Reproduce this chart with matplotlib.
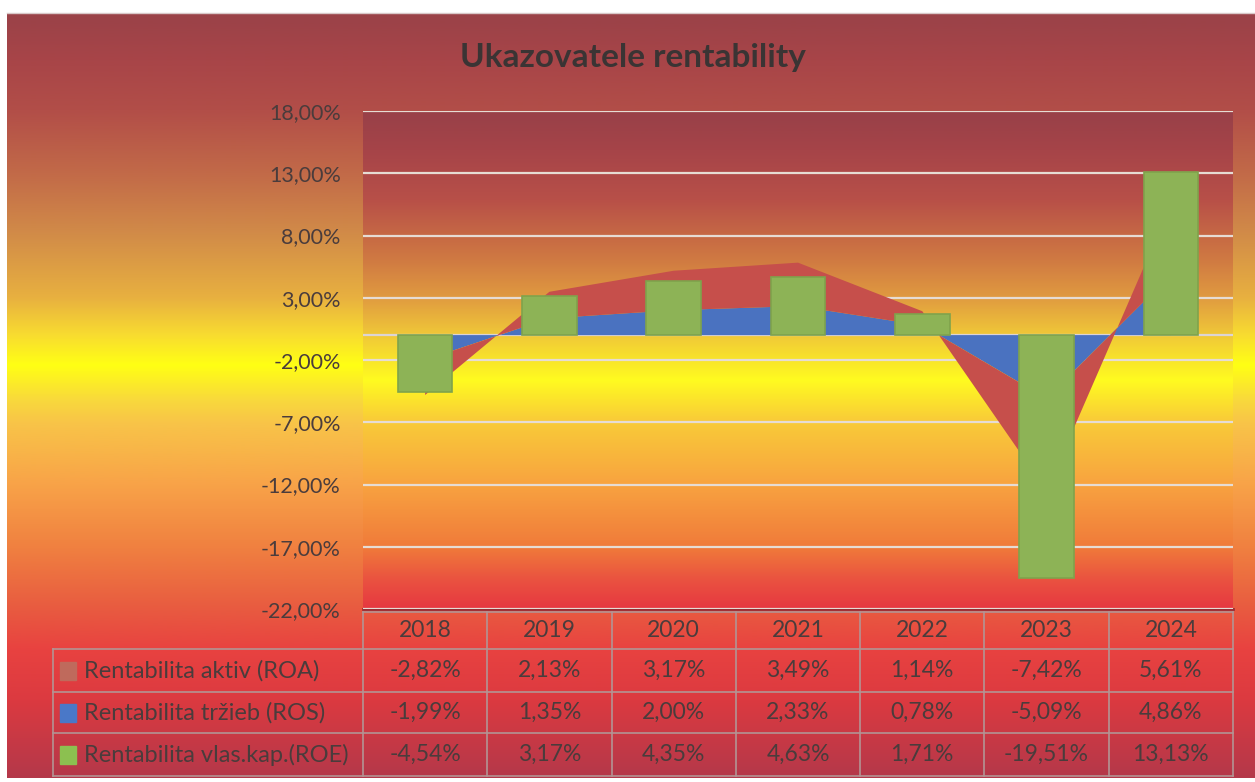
import numpy as np
import matplotlib
matplotlib.use("Agg")
import matplotlib.pyplot as plt
import matplotlib.transforms as mtransforms
from matplotlib.colors import to_rgb
from matplotlib.patches import Rectangle

plt.rcParams['font.family'] = ['Lato', 'DejaVu Sans']

# data
years = ['2018', '2019', '2020', '2021', '2022', '2023', '2024']
roa = [-2.82, 2.13, 3.17, 3.49, 1.14, -7.42, 5.61]
ros = [-1.99, 1.35, 2.00, 2.33, 0.78, -5.09, 4.86]
roe = [-4.54, 3.17, 4.35, 4.63, 1.71, -19.51, 13.13]
series_names = ['Rentabilita aktiv (ROA)', 'Rentabilita tržieb (ROS)',
                'Rentabilita vlas.kap.(ROE)']
y_ticks = [-22, -17, -12, -7, -2, 3, 8, 13, 18]

W, H = 1255, 782
C_ROA = '#c64f4b'
C_ROS = '#4a72c0'
C_ROE = '#8db356'
TXT = '#4a3c3c'
GRID = '#e6dcd4'
BORDER = '#b39494'


def vgrad(stops, y0, y1, n=500):
    """vertical gradient image from (y_pixel, colour) stops"""
    ys = np.linspace(y0, y1, n)
    sy = [s[0] for s in stops]
    cols = np.array([to_rgb(s[1]) for s in stops])
    img = np.stack([np.interp(ys, sy, cols[:, k]) for k in range(3)], axis=-1)
    return img[:, None, :]


bg_stops = [(13, '#9a4248'), (60, '#a84548'), (110, '#b24e48'), (173, '#c26a48'),
            (235, '#d28c48'), (297, '#e8b040'), (335, '#f8dc30'), (365, '#ffff14'),
            (400, '#f9d93c'), (423, '#f8c448'), (486, '#f8a248'), (548, '#f08040'),
            (610, '#e85a40'), (650, '#e84240'), (700, '#dc3a40'), (778, '#b4384a')]
plot_stops = [(111, '#984048'), (150, '#a64448'), (200, '#b85048'), (260, '#d07a42'),
              (297, '#e09a40'), (335, '#f0c838'), (380, '#fffb20'), (420, '#f9cc38'),
              (486, '#f8a240'), (548, '#f07a3a'), (580, '#ea5240'), (609, '#e63840')]

fig = plt.figure(figsize=(W / 100, H / 100), dpi=100)
fig.patch.set_facecolor('white')

# overlay in pixel coordinates for background and table grid
ov = fig.add_axes([0, 0, 1, 1], zorder=0)
ov.set_xlim(0, W)
ov.set_ylim(H, 0)
ov.axis('off')
ov.imshow(vgrad(bg_stops, 13, 778), extent=(7, W, 778, 13), aspect='auto',
          interpolation='bilinear', zorder=0)
ov.plot([7, W], [13, 13], color='#d8c8c8', lw=1, zorder=1)

# plot area
px_l, px_r, px_t, px_b = 363, 1233, 111, 609
ax = fig.add_axes([px_l / W, 1 - px_b / H, (px_r - px_l) / W, (px_b - px_t) / H], zorder=1)
ax.patch.set_visible(False)
x = np.arange(len(years))
ax.set_xlim(-0.5, len(years) - 0.5)
ax.set_ylim(-22, 18)
ax.imshow(vgrad(plot_stops, px_t, px_b), extent=(-0.5, len(years) - 0.5, -22, 18),
          aspect='auto', interpolation='bilinear', zorder=0)

ax.set_axisbelow(True)
ax.set_yticks(y_ticks)
ax.set_yticklabels([f"{v:.2f}".replace('.', ',') + '%' for v in y_ticks],
                   fontsize=15.5, color=TXT)
ax.yaxis.grid(True, color=GRID, lw=1.6)
ax.tick_params(axis='y', length=0, pad=16)
ax.set_xticks([])
for s in ax.spines.values():
    s.set_visible(False)
ax.axhline(0, color='#dcd4d4', lw=1.6, zorder=0.6)

# stacked area (ROS at base, ROA on top) and ROE columns
ax.stackplot(x, ros, roa, colors=[C_ROS, C_ROA], zorder=1)
ax.bar(x, roe, width=0.44, color=C_ROE, edgecolor='#7fa34c', lw=1.2, zorder=3)

fig.text(633 / W, 1 - 58 / H, 'Ukazovatele rentability', ha='center', va='center',
         fontsize=24, fontweight='bold', color='#3a3434')

# data table under the plot
tr = mtransforms.blended_transform_factory(ax.transData, ov.transData)
row_top = 612
rows_y = [649, 692, 733, 776]
ov.plot([px_l, px_r], [px_b, px_b], color='#9a2c34', lw=2, zorder=2)
ov.plot([px_l, px_r], [row_top, row_top], color=BORDER, lw=1.2, zorder=2)
for yy in rows_y:
    ov.plot([53, px_r], [yy, yy], color=BORDER, lw=1.2, zorder=2)
ov.plot([53, 53], [rows_y[0], rows_y[-1]], color=BORDER, lw=1.2, zorder=2)
for i in range(len(years) + 1):
    ax.plot([i - 0.5, i - 0.5], [row_top, rows_y[-1]], color=BORDER, lw=1.2,
            transform=tr, clip_on=False, zorder=5)

for i, yr in enumerate(years):
    ax.text(i, (row_top + rows_y[0]) / 2, yr, transform=tr, ha='center', va='center',
            fontsize=16.5, color=TXT)

key_cols = ['#bf6a5c', '#4a78c8', '#8cc050']
for r, (name, vals) in enumerate(zip(series_names, [roa, ros, roe])):
    yc = (rows_y[r] + rows_y[r + 1]) / 2
    ov.add_patch(Rectangle((60, yc - 9), 16, 18, color=key_cols[r], zorder=3))
    ov.text(84, yc, name, ha='left', va='center', fontsize=17, color=TXT, zorder=3)
    for i, v in enumerate(vals):
        ax.text(i, yc, f"{v:.2f}".replace('.', ',') + '%', transform=tr,
                ha='center', va='center', fontsize=16.5, color=TXT)

fig.savefig('out.png', dpi=100)
